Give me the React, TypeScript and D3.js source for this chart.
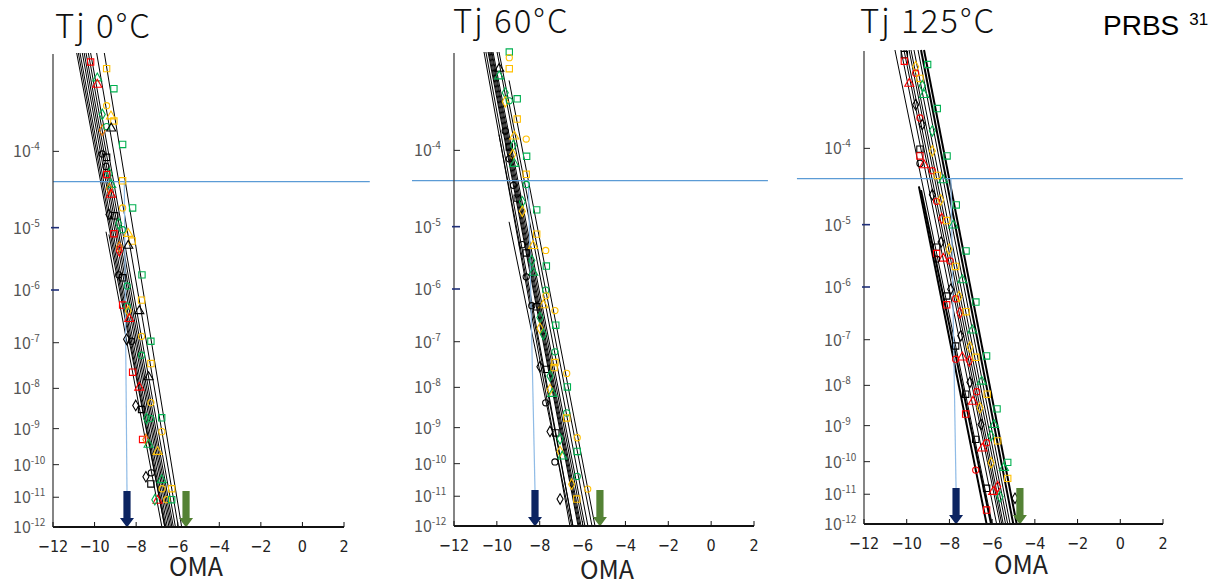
import React from 'react';
import * as d3 from 'd3';

// ---------- data ----------
const xTicks = [-12, -10, -8, -6, -4, -2, 0, 2];
const yTickExps = [4, 5, 6, 7, 8, 9, 10, 11, 12]; // BER = 10^-exp
const titles = ['Tj 0°C', 'Tj 60°C', 'Tj 125°C'];
const berTopExp = 3;
const berBottomExp = 12;
const thresholdExp = 4.37; // FEC threshold BER ≈ 4.3e-5
const thresholdRange = [[-12, 3.24], [-13.96, 2.65], [-15.14, 2.93]];
const dropStartOMA = [-8.57, -8.53, -7.93];
const navyArrowOMA = [-8.44, -8.22, -7.69];
const greenArrowOMA = [-5.6, -5.19, -4.7];
const arrowTopExp = 10.8;

// fitted lines: [omaStart, berExpStart, omaEnd, berExpEnd]
const linesTj0 = [
  [-10.86, 3, -6.62, 12], [-10.78, 3, -6.57, 12], [-10.7, 3, -6.5, 12], [-10.59, 3, -6.42, 12],
  [-10.5, 3, -6.35, 12], [-10.41, 3, -6.28, 12], [-10.3, 3, -6.21, 12], [-10.19, 3, -6.11, 12],
  [-9.9, 3, -5.97, 12], [-9.53, 3, -5.81, 12],
  [-9.45, 5.06, -6.76, 12], [-9.31, 5.1, -6.62, 12],
];
const linesTj60 = [
  [-10.6, 3, -6.59, 12], [-10.51, 3, -6.45, 12], [-10.41, 3, -6.21, 12], [-10.37, 3, -6.17, 12],
  [-10.32, 3, -6.12, 12], [-10.27, 3, -6.07, 12], [-10.23, 3, -5.98, 12], [-10.18, 3, -5.89, 12],
  [-9.99, 3, -5.75, 12], [-9.9, 3, -5.56, 12],
  [-9.43, 3.26, -5.42, 12], [-9.9, 3.82, -6.45, 12], [-9.43, 4.93, -6.51, 12],
];
const linesTj125 = [
  [-10.55, 3, -6.0, 12], [-10.27, 3, -5.79, 12], [-10.13, 3, -5.63, 12], [-10.03, 3, -5.55, 12],
  [-9.89, 3, -5.48, 12], [-9.8, 3, -5.37, 12], [-9.66, 3, -5.27, 12], [-9.47, 3, -5.16, 12],
  [-9.33, 3, -5.01, 12], [-9.19, 3, -4.85, 12],
  [-9.43, 4.47, -6.26, 12], [-9.33, 4.52, -6.05, 12],
];
const heavyLines = [[], [], [8, 9, 10, 11]];

// measured points: [oma, berExp, series colour, marker]
const markersTj0 = [
  [-10.19, 3.08, 'r', 's'], [-9.42, 3.14, 'y', 's'], [-9.87, 3.23, 'g', 't'], [-9.87, 3.29, 'r', 't'],
  [-9.07, 3.33, 'g', 's'], [-9.42, 3.5, 'y', 'c'], [-9.63, 3.59, 'g', 'd'], [-9.21, 3.61, 'y', 't'],
  [-9.07, 3.66, 'y', 's'], [-9.63, 3.76, 'o', 'd'], [-9.42, 3.72, 'g', 'c'], [-9.2, 3.74, 'k', 't'],
  [-8.65, 3.92, 'g', 's'], [-9.63, 4.03, 'k', 'c'], [-9.42, 4.07, 'k', 's'], [-9.45, 4.18, 'k', 'c'],
  [-9.29, 4.27, 'g', 'd'], [-9.42, 4.28, 'r', 's'], [-8.65, 4.36, 'y', 's'], [-9.2, 4.41, 'g', 't'],
  [-9.29, 4.46, 'o', 'd'], [-9.21, 4.54, 'r', 't'], [-8.65, 4.72, 'y', 'c'], [-8.17, 4.72, 'g', 's'],
  [-9.31, 4.81, 'k', 'd'], [-9.03, 4.83, 'k', 's'], [-8.84, 4.94, 'g', 'd'], [-8.65, 5.03, 'g', 'c'],
  [-9.07, 5.09, 'r', 's'], [-8.38, 5.09, 'y', 't'], [-8.19, 5.2, 'y', 's'], [-8.38, 5.27, 'k', 't'],
  [-8.81, 5.29, 'o', 'd'], [-8.81, 5.35, 'r', 'd'], [-7.72, 5.74, 'g', 's'], [-8.84, 5.74, 'k', 'c'],
  [-8.65, 5.79, 'k', 's'], [-8.43, 5.93, 'g', 'c'], [-7.74, 6.18, 'y', 's'], [-8.65, 6.27, 'r', 's'],
  [-8.43, 6.29, 'g', 'c'], [-8.38, 6.38, 'y', 'd'], [-7.85, 6.38, 'k', 't'], [-8.33, 6.53, 'r', 't'],
  [-7.74, 6.87, 'y', 'c'], [-8.46, 6.93, 'k', 'd'], [-8.22, 6.97, 'k', 'c'], [-7.29, 6.97, 'g', 's'],
  [-7.74, 7.26, 'g', 'c'], [-7.29, 7.44, 'y', 's'], [-8.17, 7.63, 'r', 's'], [-7.4, 7.74, 'k', 't'],
  [-7.85, 7.98, 'r', 't'], [-7.29, 8.34, 'y', 'c'], [-8.02, 8.41, 'k', 'd'], [-7.74, 8.51, 'k', 's'],
  [-7.5, 8.74, 'g', 'd'], [-7.29, 8.74, 'g', 'c'], [-6.77, 8.72, 'g', 's'], [-6.76, 9.08, 'y', 'c'],
  [-7.69, 9.29, 'r', 's'], [-7.53, 9.29, 'o', 'd'], [-7.4, 9.43, 'g', 't'], [-6.97, 9.63, 'y', 't'],
  [-7.27, 10.24, 'k', 'c'], [-7.53, 10.36, 'k', 'd'], [-7.29, 10.58, 'k', 's'], [-6.77, 10.46, 'g', 't'],
  [-6.75, 10.73, 'y', 'c'], [-6.29, 10.73, 'y', 's'], [-6.97, 11.11, 'r', 't'], [-7.1, 11.08, 'g', 'd'],
  [-6.53, 11.08, 'y', 'c'], [-6.29, 11.08, 'g', 's'],
];
const markersTj60 = [
  [-9.42, 3.0, 'g', 's'], [-9.42, 3.05, 'y', 'c'], [-9.42, 3.15, 'y', 's'], [-9.89, 3.15, 'k', 't'],
  [-9.89, 3.22, 'g', 't'], [-9.61, 3.38, 'g', 'd'], [-9.61, 3.47, 'y', 'd'], [-9.42, 3.46, 'g', 'c'],
  [-9.05, 3.44, 'g', 's'], [-9.05, 3.65, 'y', 's'], [-9.61, 3.78, 'k', 'c'], [-9.19, 3.84, 'y', 't'],
  [-8.63, 3.87, 'y', 'c'], [-9.42, 3.96, 'k', 's'], [-9.23, 3.94, 'g', 'd'], [-9.26, 4.05, 'y', 'd'],
  [-8.61, 4.07, 'g', 's'], [-9.19, 4.16, 'g', 't'], [-9.42, 4.1, 'k', 'c'], [-8.63, 4.29, 'y', 's'],
  [-8.63, 4.42, 'g', 'c'], [-9.23, 4.43, 'k', 'c'], [-9.05, 4.6, 'k', 's'], [-8.81, 4.65, 'g', 'd'],
  [-8.81, 4.78, 'y', 'd'], [-8.14, 4.76, 'g', 's'], [-8.14, 5.11, 'y', 's'], [-8.81, 5.27, 'k', 'c'],
  [-8.31, 5.29, 'y', 't'], [-7.72, 5.36, 'y', 'c'], [-8.63, 5.4, 'k', 's'], [-8.37, 5.52, 'g', 'd'],
  [-7.69, 5.61, 'g', 's'], [-8.3, 5.72, 'g', 't'], [-8.63, 5.79, 'k', 'c'], [-7.72, 6.02, 'g', 'c'],
  [-7.71, 6.12, 'y', 'c'], [-8.37, 6.3, 'k', 'c'], [-7.83, 6.29, 'y', 't'], [-8.14, 6.32, 'k', 's'],
  [-7.29, 6.39, 'y', 'c'], [-7.99, 6.52, 'g', 'd'], [-7.25, 6.67, 'g', 's'], [-7.99, 6.73, 'y', 'd'],
  [-7.83, 6.85, 'g', 'd'], [-7.29, 7.21, 'g', 'c'], [-7.29, 7.44, 'y', 's'], [-7.99, 7.53, 'k', 'd'],
  [-7.69, 7.59, 'k', 's'], [-7.33, 7.55, 'y', 's'], [-6.74, 7.68, 'y', 'c'], [-7.52, 7.74, 'g', 'd'],
  [-6.71, 7.99, 'g', 's'], [-7.52, 8.05, 'y', 'd'], [-7.41, 8.15, 'g', 't'], [-7.72, 8.37, 'k', 'c'],
  [-6.74, 8.62, 'g', 'c'], [-6.74, 8.75, 'y', 's'], [-7.52, 9.1, 'k', 'd'], [-7.25, 9.14, 'k', 's'],
  [-6.25, 9.27, 'y', 'c'], [-7.05, 9.3, 'g', 'd'], [-6.25, 9.65, 'g', 's'], [-7.05, 9.65, 'y', 'd'],
  [-6.95, 9.79, 'g', 't'], [-7.29, 9.95, 'k', 'c'], [-6.25, 10.38, 'g', 'c'], [-5.76, 10.77, 'y', 'c'],
  [-6.51, 10.62, 'y', 'd'], [-6.27, 11.09, 'y', 's'], [-7.05, 11.09, 'k', 'd'],
];
const markersTj125 = [
  [-10.11, 3.04, 'k', 's'], [-10.11, 3.1, 'r', 's'], [-9.58, 3.15, 'y', 'd'], [-9.02, 3.13, 'g', 's'],
  [-9.58, 3.21, 'r', 'c'], [-9.38, 3.26, 'y', 's'], [-9.88, 3.31, 'r', 't'], [-9.27, 3.33, 'g', 'd'],
  [-9.19, 3.42, 'g', 't'], [-9.58, 3.52, 'k', 'd'], [-8.57, 3.56, 'g', 's'], [-9.38, 3.66, 'r', 'c'],
  [-9.27, 3.73, 'k', 'd'], [-8.8, 3.8, 'g', 'd'], [-8.8, 4.03, 'y', 'd'], [-9.38, 4.01, 'k', 's'],
  [-9.38, 4.09, 'r', 's'], [-8.11, 4.09, 'g', 's'], [-9.38, 4.18, 'k', 'c'], [-9.19, 4.2, 'r', 't'],
  [-8.8, 4.27, 'r', 'c'], [-8.57, 4.33, 'y', 's'], [-8.29, 4.39, 'g', 't'], [-8.8, 4.58, 'k', 'd'],
  [-8.6, 4.67, 'r', 'c'], [-7.68, 4.72, 'g', 's'], [-8.41, 4.65, 'y', 'd'], [-8.36, 4.91, 'r', 'd'],
  [-8.13, 4.94, 'y', 's'], [-7.82, 5.01, 'g', 't'], [-8.39, 5.26, 'k', 'd'], [-8.6, 5.34, 'k', 's'],
  [-8.6, 5.44, 'r', 's'], [-8.29, 5.52, 'r', 't'], [-8.02, 5.37, 'y', 'd'], [-8.6, 5.53, 'k', 'c'],
  [-7.22, 5.4, 'g', 's'], [-7.97, 5.56, 'r', 'c'], [-7.71, 5.65, 'y', 's'], [-7.4, 5.88, 'g', 't'],
  [-7.94, 6.04, 'k', 'd'], [-8.13, 6.16, 'k', 's'], [-8.13, 6.32, 'r', 's'], [-7.71, 6.21, 'r', 'c'],
  [-7.55, 6.17, 'y', 'd'], [-6.76, 6.27, 'g', 's'], [-7.51, 6.47, 'r', 'd'], [-7.22, 6.45, 'y', 's'],
  [-6.93, 6.81, 'g', 't'], [-7.47, 6.92, 'k', 'd'], [-7.71, 7.13, 'k', 's'], [-7.04, 7.15, 'y', 'd'],
  [-7.71, 7.41, 'r', 'c'], [-7.4, 7.37, 'r', 't'], [-7.07, 7.45, 'r', 'd'], [-6.76, 7.37, 'y', 's'],
  [-6.26, 7.34, 'g', 's'], [-7.04, 7.93, 'k', 'd'], [-6.49, 7.91, 'g', 't'], [-7.24, 8.21, 'k', 's'],
  [-6.72, 8.15, 'r', 'c'], [-6.23, 8.21, 'y', 's'], [-6.9, 8.39, 'r', 't'], [-6.57, 8.54, 'y', 'd'],
  [-5.77, 8.57, 'g', 's'], [-7.24, 8.7, 'r', 's'], [-6.52, 8.97, 'k', 'd'], [-5.91, 8.98, 'g', 't'],
  [-6.77, 9.37, 'k', 's'], [-6.26, 9.46, 'r', 'c'], [-5.74, 9.41, 'y', 's'], [-6.46, 9.62, 'r', 't'],
  [-6.05, 9.27, 'g', 'd'], [-6.05, 10.03, 'y', 'd'], [-5.27, 10.02, 'g', 's'], [-6.77, 10.25, 'r', 'c'],
  [-5.45, 10.18, 'g', 't'], [-5.27, 10.5, 'y', 's'], [-6.26, 10.81, 'k', 's'], [-5.74, 10.76, 'r', 'd'],
  [-5.95, 10.92, 'r', 't'], [-5.63, 11.08, 'g', 'd'], [-4.93, 11.13, 'k', 'd'], [-6.26, 11.52, 'r', 's'],
];

const allLines = [linesTj0, linesTj60, linesTj125];
const allMarkers = [markersTj0, markersTj60, markersTj125];

// ---------- styling / layout ----------
const COLORS: Record<string, string> = {
  r: '#ff0000', g: '#00b050', y: '#ffc000', o: '#f07800', k: '#000000',
};
const SHAPES: Record<string, any> = {
  s: d3.symbolSquare, t: d3.symbolTriangle, c: d3.symbolCircle, d: d3.symbolDiamond,
};
const SIZES: Record<string, number> = { s: 40, t: 36, c: 30, d: 32 };

const LAYOUT = [
  { left: 53, right: 344, top: 53, bottom: 527, titleX: 55, titleY: 38, omaX: 196, omaY: 576 },
  { left: 454, right: 754, top: 52, bottom: 526, titleX: 453, titleY: 33, omaX: 607, omaY: 579 },
  { left: 864, right: 1163, top: 50, bottom: 524, titleX: 860, titleY: 33, omaX: 1021, omaY: 574 },
];

const JP = '"Noto Sans CJK JP", "Noto Sans", sans-serif';
const NARROW = '"Liberation Sans Narrow", "DejaVu Sans Condensed", "Liberation Sans", sans-serif';

function Panel({ i }: { i: number }) {
  const L = LAYOUT[i];
  const x = d3.scaleLinear().domain([-12, 2]).range([L.left, L.right]);
  const yl = d3.scaleLinear()
    .domain([Math.log10(berTopExp), Math.log10(berBottomExp)])
    .range([L.top, L.bottom]);
  const y = (e: number) => yl(Math.log10(e));
  const line = d3.line<[number, number]>().x((d) => x(d[0])).y((d) => y(d[1]));

  const thrY = y(thresholdExp);
  const arrowTop = y(arrowTopExp);
  const headH = 9;
  const arrow = (oma: number, color: string) => {
    const cx = x(oma);
    const b = L.bottom;
    const p = [
      [cx - 3.6, arrowTop], [cx + 3.6, arrowTop], [cx + 3.6, b - headH], [cx + 7, b - headH],
      [cx, b + 0.5], [cx - 7, b - headH], [cx - 3.6, b - headH],
    ];
    return <polygon points={p.map((q) => q.join(',')).join(' ')} fill={color} />;
  };

  return (
    <g>
      {/* title */}
      <text x={L.titleX} y={L.titleY} fontFamily={JP} fontWeight={300} fontSize={33}
        letterSpacing={2} fill="#111">{titles[i]}</text>

      {/* fitted lines */}
      {allLines[i].map((l, k) => (
        <path key={k} d={line([[l[0], l[1]], [l[2], l[3]]]) || ''} fill="none" stroke="#000"
          strokeWidth={heavyLines[i].includes(k) ? 2 : 1} />
      ))}

      {/* threshold */}
      <line x1={x(thresholdRange[i][0])} x2={x(thresholdRange[i][1])} y1={thrY} y2={thrY}
        stroke="#5b9bd5" strokeWidth={1.2} />
      <line x1={x(dropStartOMA[i])} y1={thrY} x2={x(navyArrowOMA[i])} y2={arrowTop}
        stroke="#8fbbe6" strokeWidth={1.2} />

      {/* markers */}
      {allMarkers[i].map((m, k) => (
        <path key={k} transform={`translate(${x(m[0] as number)},${y(m[1] as number)})`}
          d={d3.symbol().type(SHAPES[m[3] as string]).size(SIZES[m[3] as string])() || ''}
          fill="none" stroke={COLORS[m[2] as string]} strokeWidth={1.1} />
      ))}

      {/* arrows */}
      {arrow(navyArrowOMA[i], '#0c2461')}
      {arrow(greenArrowOMA[i], '#548235')}

      {/* axes */}
      <line x1={L.left} x2={L.left} y1={L.top + 1} y2={L.bottom} stroke="#333" strokeWidth={1.2} />
      <line x1={L.left} x2={L.right} y1={L.bottom} y2={L.bottom} stroke="#111" strokeWidth={1.8} />
      {xTicks.map((t) => (
        <g key={t}>
          <line x1={x(t)} x2={x(t)} y1={L.bottom} y2={L.bottom - 5} stroke="#111" strokeWidth={1} />
          <text x={x(t)} y={L.bottom + 25} textAnchor="middle" fontFamily={NARROW} fontSize={16}
            fill="#222">{t < 0 ? `\u2212${-t}` : `${t}`}</text>
        </g>
      ))}
      {yTickExps.map((e) => {
        const yy = y(e);
        const navy = e === 5 || e === 6;
        return (
          <g key={e}>
            <line x1={navy ? L.left - 2 : L.left} x2={L.left + 6} y1={yy} y2={yy}
              stroke={navy ? '#1f2f7a' : '#222'} strokeWidth={navy ? 1.6 : 1} />
            <text x={L.left - 40} y={yy + 6} fontFamily={JP} fontSize={16} fill="#555">
              10<tspan dy={-7} fontSize={10}>{`-${e}`}</tspan>
            </text>
          </g>
        );
      })}
      <text x={L.omaX} y={L.omaY} textAnchor="middle" fontFamily={JP} fontSize={25} fill="#222">OMA</text>
    </g>
  );
}

export default function App() {
  return (
    <svg width={1216} height={583} style={{ position: 'absolute', left: 0, top: 0, background: '#fff' }}>
      <rect width={1216} height={583} fill="#fff" />
      {[0, 1, 2].map((i) => <Panel key={i} i={i} />)}
      <text x={1103} y={35} fontFamily='"Liberation Sans", Arial, sans-serif' fontSize={28} fill="#000">
        PRBS<tspan dx={10} dy={-10} fontSize={17}>31</tspan>
      </text>
    </svg>
  );
}
